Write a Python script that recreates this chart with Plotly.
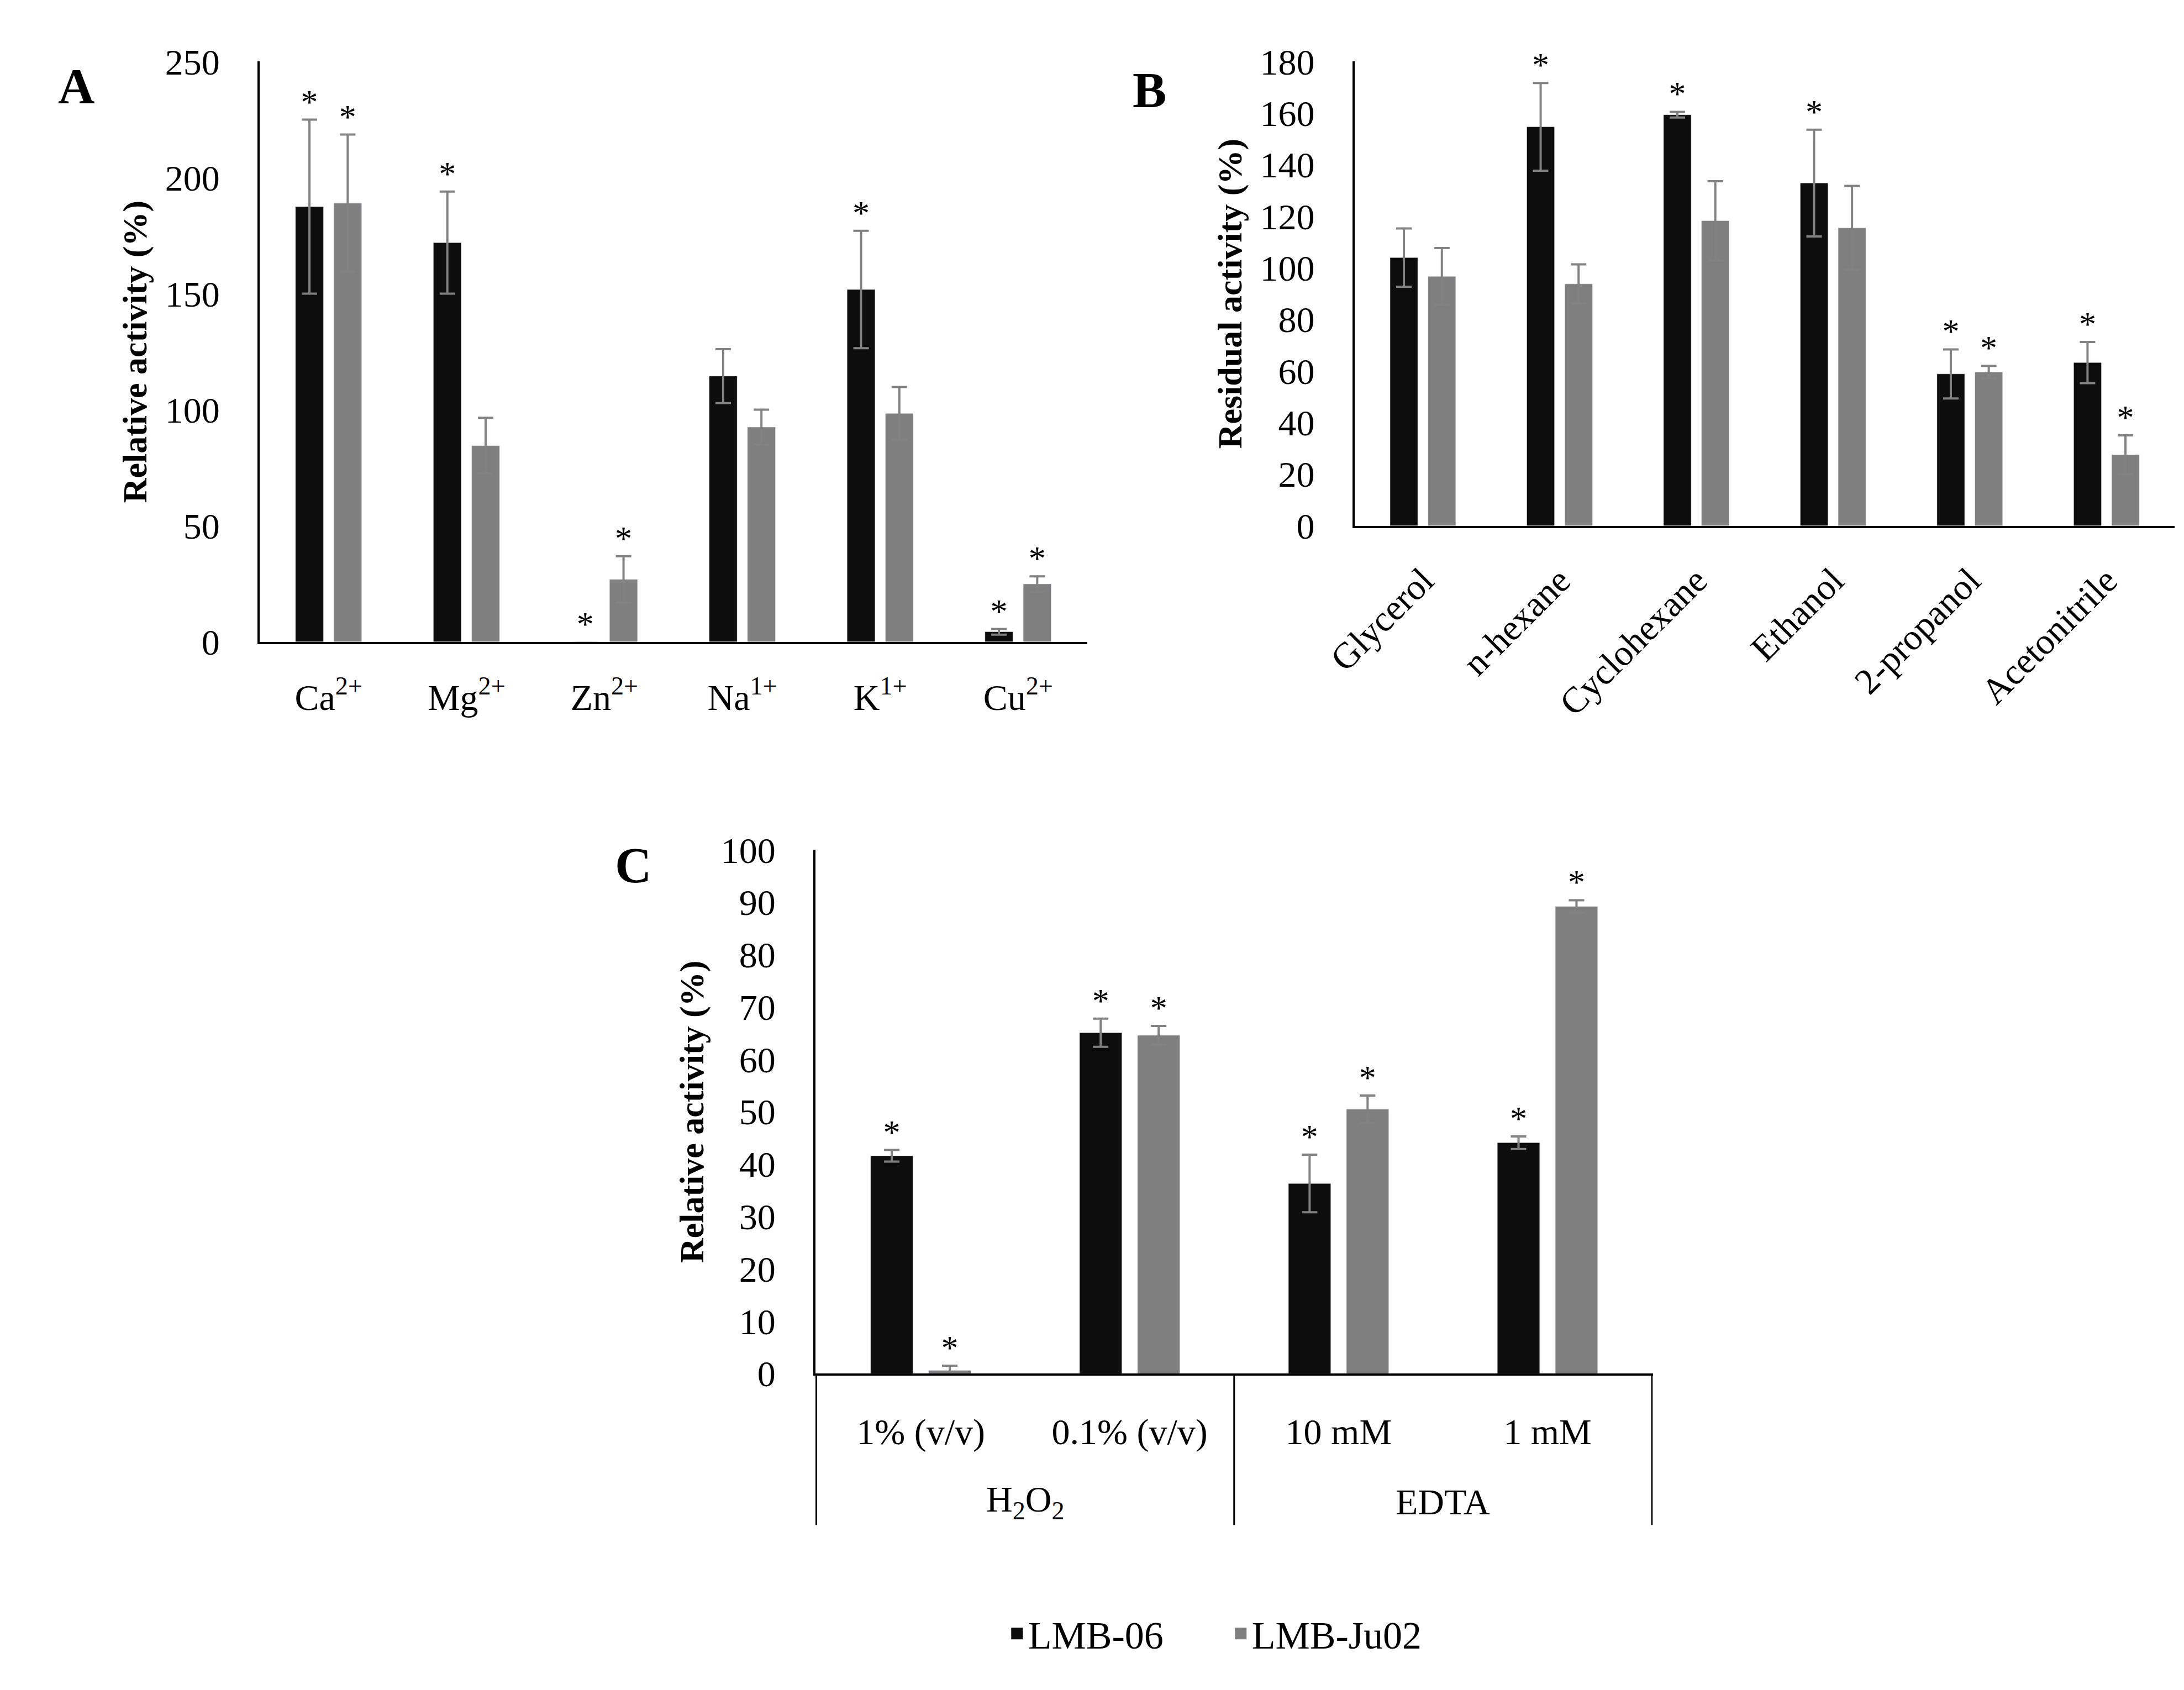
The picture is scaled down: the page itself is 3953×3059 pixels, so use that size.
import plotly.graph_objects as go

# Panel A - metal ions
metals = ["Ca<sup>2+</sup>", "Mg<sup>2+</sup>", "Zn<sup>2+</sup>", "Na<sup>1+</sup>", "K<sup>1+</sup>", "Cu<sup>2+</sup>"]
a_lmb06 = [187.5, 172.0, -0.5, 114.5, 151.8, 4.3]
a_lmb06_err = [37.5, 22.0, 0.0, 11.6, 25.3, 1.2]
a_ju02 = [189.0, 84.5, 26.9, 92.5, 98.4, 24.9]
a_ju02_err = [29.6, 12.0, 10.0, 7.5, 11.4, 3.3]
a_sig06 = [True, True, True, False, True, True]
a_sigju = [True, False, True, False, False, True]

# Panel B - organic solvents
solvents = ["Glycerol", "n-hexane", "Cyclohexane", "Ethanol", "2-propanol", "Acetonitrile"]
b_lmb06 = [104.0, 154.7, 159.4, 132.9, 58.9, 63.3]
b_lmb06_err = [11.3, 17.0, 1.1, 20.7, 9.5, 8.0]
b_ju02 = [96.7, 93.8, 118.3, 115.5, 59.6, 27.6]
b_ju02_err = [11.0, 7.6, 15.3, 16.3, 2.4, 7.5]
b_sig06 = [False, True, True, True, True, True]
b_sigju = [False, False, False, False, True, True]

# Panel C - H2O2 / EDTA
c_groups = ["H<sub>2</sub>O<sub>2</sub>", "H<sub>2</sub>O<sub>2</sub>", "EDTA", "EDTA"]
c_conc = ["1% (v/v)", "0.1% (v/v)", "10 mM", "1 mM"]
c_lmb06 = [41.6, 65.1, 36.3, 44.1]
c_lmb06_err = [1.1, 2.7, 5.5, 1.2]
c_ju02 = [0.6, 64.6, 50.5, 89.2]
c_ju02_err = [0.9, 1.8, 2.6, 1.2]
c_sig06 = [True, True, True, True]
c_sigju = [True, True, True, True]

FONT = "Liberation Serif"
BLACK = "#0d0d0d"
GRAY = "#7f7f7f"
ERRC = "#828282"


def star_y(vals, errs, sig, off):
    return [max(v, 0) + e + off if s else None for v, e, s in zip(vals, errs, sig)]


def add_panel(fig, x, v06, e06, s06, vju, eju, sju, off, n):
    xa = "x" if n == 1 else "x%d" % n
    ya = "y" if n == 1 else "y%d" % n
    fig.add_trace(go.Bar(x=x, y=v06, marker_color=BLACK, offsetgroup="06",
                         error_y=dict(type="data", array=e06, color=ERRC, thickness=4, width=14),
                         xaxis=xa, yaxis=ya, showlegend=False))
    fig.add_trace(go.Bar(x=x, y=vju, marker_color=GRAY, offsetgroup="ju",
                         error_y=dict(type="data", array=eju, color=ERRC, thickness=4, width=14),
                         xaxis=xa, yaxis=ya, showlegend=False))
    for vals, errs, sig, grp in [(v06, e06, s06, "06"), (vju, eju, sju, "ju")]:
        fig.add_trace(go.Scatter(x=x, y=star_y(vals, errs, sig, off), mode="text", text="*",
                                 textposition="middle center", offsetgroup=grp, cliponaxis=False,
                                 textfont=dict(family=FONT, size=62, color="black"),
                                 xaxis=xa, yaxis=ya, showlegend=False, hoverinfo="skip"))


fig = go.Figure()
add_panel(fig, metals, a_lmb06, a_lmb06_err, a_sig06, a_ju02, a_ju02_err, a_sigju, 6.5, 1)
add_panel(fig, solvents, b_lmb06, b_lmb06_err, b_sig06, b_ju02, b_ju02_err, b_sigju, 5.9, 2)
add_panel(fig, c_conc, c_lmb06, c_lmb06_err, c_sig06, c_ju02, c_ju02_err, c_sigju, 2.9, 3)

# legend entries
for name, col, grp in [("LMB-06", BLACK, "06"), ("LMB-Ju02", GRAY, "ju")]:
    fig.add_trace(go.Scatter(x=[None], y=[None], mode="markers", name=name, offsetgroup=grp,
                             marker=dict(symbol="square", size=16, color=col,
                                         line=dict(color=col, width=5)),
                             xaxis="x", yaxis="y"))

# second level of the panel C category axis: group names and divider lines
bounds = [-0.5]
starts = [0]
for i in range(1, len(c_groups)):
    if c_groups[i] != c_groups[i - 1]:
        bounds.append(i - 0.5)
        starts.append(i)
bounds.append(len(c_groups) - 0.5)

annotations = []
shapes = []
for k, s in enumerate(starts):
    e = bounds[k + 1]
    annotations.append(dict(text=c_groups[s], x=(s - 0.5 + e) / 2, xref="x3",
                            y=-0.245, yref="y3 domain", showarrow=False,
                            xanchor="center", yanchor="middle",
                            font=dict(family=FONT, size=66, color="black")))
for b in bounds:
    shapes.append(dict(type="line", xref="x3", yref="y3 domain", x0=b, x1=b, y0=0, y1=-0.289,
                       line=dict(color="black", width=3)))

for letter, lx, ly in [("A", 0.0185, 0.9624), ("B", 0.5173, 0.9601), ("C", 0.2773, 0.4904)]:
    annotations.append(dict(text="<b>%s</b>" % letter, x=lx, y=ly, xref="paper", yref="paper",
                            showarrow=False, xanchor="center", yanchor="middle",
                            font=dict(family=FONT, size=92, color="black")))

yax = dict(showline=True, linecolor="black", linewidth=4, showgrid=False, zeroline=False,
           ticks="", tickfont=dict(family=FONT, size=66, color="black"), ticklabelstandoff=55)
xax = dict(showline=True, linecolor="black", linewidth=4, showgrid=False, zeroline=False,
           ticks="", tickfont=dict(family=FONT, size=66, color="black"))
ytitle = dict(family=FONT, size=62, color="black")

fig.update_layout(
    width=3953, height=3059,
    margin=dict(l=0, r=0, t=0, b=0),
    paper_bgcolor="white", plot_bgcolor="white",
    barmode="group", bargap=0.445, bargroupgap=0.27,
    scattermode="group", scattergap=0.445,
    font=dict(family=FONT, color="black"),
    xaxis=dict(xax, domain=[0.1037, 0.4882], anchor="y", ticklabelstandoff=40),
    yaxis=dict(yax, domain=[0.6257, 0.9774], anchor="x", range=[0, 250], dtick=50,
               title=dict(text="<b>Relative activity (%)</b>", font=ytitle, standoff=14)),
    xaxis2=dict(xax, domain=[0.6125, 0.9937], anchor="y2", tickangle=-45, ticklabelstandoff=30),
    yaxis2=dict(yax, domain=[0.6960, 0.9774], anchor="x2", range=[0, 180], dtick=20,
                title=dict(text="<b>Residual activity (%)</b>", font=ytitle, standoff=14)),
    xaxis3=dict(xax, domain=[0.3620, 0.7511], anchor="y3", ticklabelstandoff=45),
    yaxis3=dict(yax, domain=[0.1821, 0.4995], anchor="x3", range=[0, 100], dtick=10,
                title=dict(text="<b>Relative activity (%)</b>", font=ytitle, standoff=12)),
    legend=dict(orientation="h", x=0.5545, xanchor="center", y=0.0245, yanchor="middle",
                font=dict(family=FONT, size=70, color="black"),
                entrywidth=360, entrywidthmode="pixels"),
    annotations=annotations,
    shapes=shapes,
)

fig.write_html("out.html")
